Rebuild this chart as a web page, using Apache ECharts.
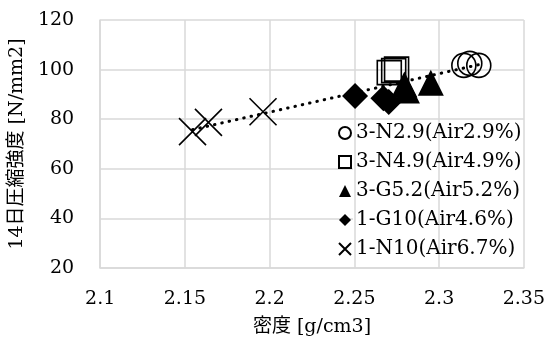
<!DOCTYPE html>
<html><head><meta charset="utf-8">
<script src="https://cdn.jsdelivr.net/npm/echarts@6/dist/echarts.min.js"></script>
<style>html,body{margin:0;padding:0;background:#fff}#c{width:548px;height:342px}</style>
</head><body><div id="c"></div>
<script>
const seriesNames = ['3-N2.9(Air2.9%)','3-N4.9(Air4.9%)','3-G5.2(Air5.2%)','1-G10(Air4.6%)','1-N10(Air6.7%)'];
const n29 = [[2.3146,101.7],[2.3181,102.5],[2.3234,101.7]];
const n49 = [[2.2706,98.8],[2.2749,100.2],[2.2732,99.6]];
const g52 = [[2.2795,94.0],[2.2810,91.6],[2.2951,94.7]];
const g10 = [[2.2504,89.4],[2.2671,88.4],[2.2703,86.9]];
const n10 = [[2.1545,75.0],[2.1639,78.7],[2.1961,83.0]];
const trend = [[2.1545,75.8],[2.3234,102.0]];
const xName = '密度 [g/cm3]';
const yName = '14日圧縮強度 [N/mm2]';

const FONT = '"DejaVu Serif", "Noto Sans CJK JP", serif';
const X_PATH = 'path://M0,0L10,10M10,0L0,10';
const chart = echarts.init(document.getElementById('c'), null, {renderer:'canvas'});
const open = {color:'transparent', borderColor:'#000', borderWidth:1.6, opacity:1};
const fill = {color:'#000', opacity:1};
chart.setOption({
  animation:false,
  backgroundColor:'#fff',
  grid:{left:91, right:22, top:20, bottom:74},
  graphic:[{type:'rect', z:1, shape:{x:353,y:121,width:172,height:146}, style:{fill:'#fff'}}],
  xAxis:{type:'value', min:2.1, max:2.35, interval:0.05, z:2,
    name:xName, nameLocation:'middle', nameGap:50,
    nameTextStyle:{fontFamily:FONT, fontSize:19, color:'#000'},
    axisLine:{show:true, lineStyle:{color:'#d9d9d9', width:1.5}},
    axisTick:{show:false},
    axisLabel:{fontFamily:FONT, fontSize:19, color:'#000', margin:22},
    splitLine:{show:true, lineStyle:{color:'#d9d9d9', width:1.5}}},
  yAxis:{type:'value', min:20, max:120, interval:20, z:0,
    name:yName, nameLocation:'middle', nameGap:59,
    nameTextStyle:{fontFamily:FONT, fontSize:19, color:'#000'},
    axisLine:{show:true, lineStyle:{color:'#d9d9d9', width:1.5}},
    axisTick:{show:false},
    axisLabel:{fontFamily:FONT, fontSize:19, color:'#000', margin:26},
    splitLine:{show:true, lineStyle:{color:'#d9d9d9', width:1.5}}},
  legend:{data:seriesNames, orient:'vertical', left:333, top:117, z:10,
    itemWidth:12, itemHeight:12, itemGap:7,
    textStyle:{fontFamily:FONT, fontSize:20, color:'#000', lineHeight:22}},
  series:[
    {name:seriesNames[0], type:'scatter', z:5, data:n29, symbol:'circle', symbolSize:24, itemStyle:open},
    {name:seriesNames[1], type:'scatter', z:5, data:n49, symbol:'rect', symbolSize:24, itemStyle:open},
    {name:seriesNames[2], type:'scatter', z:5, data:g52, symbol:'triangle', symbolSize:26, itemStyle:fill},
    {name:seriesNames[3], type:'scatter', z:5, data:g10, symbol:'diamond', symbolSize:26, itemStyle:fill},
    {name:seriesNames[4], type:'scatter', z:5, data:n10, symbol:X_PATH, symbolSize:27, itemStyle:{color:'transparent', borderColor:'#000', borderWidth:1.6, opacity:1}},
    {name:'trend', type:'line', z:6, data:trend, symbol:'none', silent:true,
      lineStyle:{color:'#000', width:3, type:[0.5,7], cap:'round', opacity:1}}
  ]
});
</script></body></html>
